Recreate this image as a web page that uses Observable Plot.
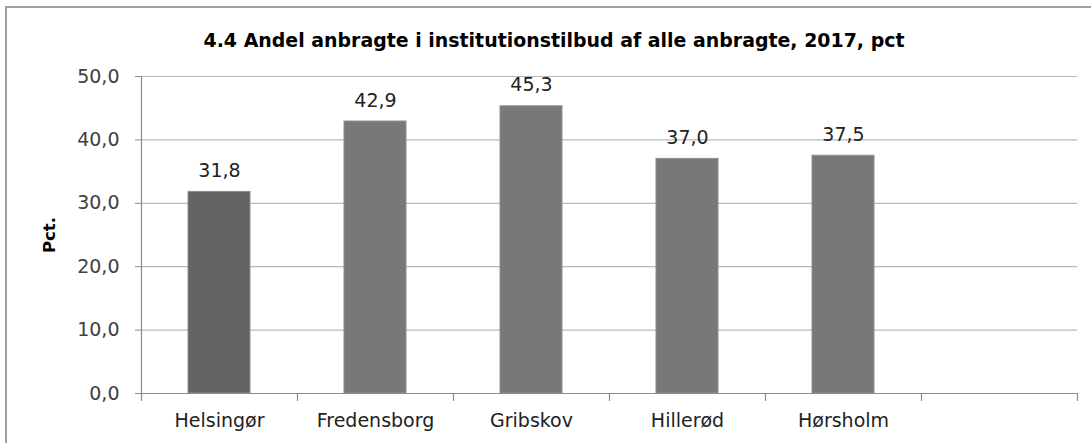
<!DOCTYPE html>
<html><head><meta charset="utf-8">
<script src="https://cdn.jsdelivr.net/npm/d3@7"></script>
<script src="https://cdn.jsdelivr.net/npm/@observablehq/plot@0.6"></script>
<style>
body{margin:0;background:#fff;}
#wrap{position:relative;width:1091px;height:443px;overflow:hidden;}
#border{position:absolute;left:5px;top:6px;width:1100px;height:460px;border-left:2px solid #a0a0a0;border-top:2px solid #a0a0a0;}
#chart{position:absolute;left:0;top:0;}
</style></head><body><div id="wrap"><div id="border"></div><div id="chart"></div></div>
<script>
const title = "4.4 Andel anbragte i institutionstilbud af alle anbragte, 2017, pct";
const yLabel = "Pct.";
const categories = ["Helsingør","Fredensborg","Gribskov","Hillerød","Hørsholm",""];
const values = [31.8, 42.9, 45.3, 37.0, 37.5];
const yTicks = [0, 10, 20, 30, 40, 50];

const data = values.map((v, i) => ({category: categories[i], value: v}));
const fmt = d => d.toFixed(1).replace(".", ",");

const W = 1091, H = 443, mL = 141, mR = 14, mT = 76, mB = 50;
const half = (W - mL - mR) / categories.length / 2;
const plotH = H - mT - mB;
const axisGray = "#8c8c8c";

const chart = Plot.plot({
  width: W, height: H,
  marginLeft: mL, marginRight: mR, marginTop: mT, marginBottom: mB,
  style: {fontFamily: "DejaVu Sans", background: "transparent"},
  x: {domain: categories, paddingInner: 0.6, paddingOuter: 0.3, label: null},
  y: {domain: [0, 50], label: null},
  marks: [
    Plot.ruleY(yTicks.filter(d => d > 0), {stroke: "#b8b8b8", strokeWidth: 1.2}),
    Plot.barY(data, {x: "category", y: "value",
      fill: d => d.category === "Helsingør" ? "#636363" : "#787878",
      stroke: "#8e8e8e", strokeWidth: 1}),
    Plot.ruleY([0], {stroke: axisGray, strokeWidth: 1.2}),
    Plot.ruleX([categories[0]], {x: d => d, dx: -half, stroke: axisGray, strokeWidth: 1.2, insetBottom: -8}),
    Plot.ruleX(categories.slice(1), {x: d => d, dx: -half, stroke: axisGray, strokeWidth: 1.2, insetTop: plotH, insetBottom: -8}),
    Plot.ruleX([categories[categories.length - 1]], {x: d => d, dx: half, stroke: axisGray, strokeWidth: 1.2, insetTop: plotH, insetBottom: -8}),
    Plot.axisY({ticks: yTicks, tickFormat: fmt, tickSize: 6, tickPadding: 16, stroke: axisGray, fill: "#404040", fontSize: 19, label: null}),
    Plot.axisX({tickSize: 0, tickPadding: 20, fill: "#222", fontSize: 19, label: null}),
    Plot.text(data, {x: "category", y: "value", text: d => fmt(d.value), dy: -21, fontSize: 19, fill: "#222", lineAnchor: "middle"}),
    Plot.text([yLabel], {frameAnchor: "left", dx: -92, rotate: -90, textAnchor: "middle", lineAnchor: "middle", fontSize: 16.5, fontWeight: "bold", fill: "#000"}),
    Plot.text([title], {frameAnchor: "top", lineAnchor: "middle", dx: 553.5 - (mL + (W - mL - mR) / 2), dy: -36, fontSize: 19.5, fontWeight: "bold", fill: "#000"})
  ]
});
d3.select(chart).selectAll("text").filter(function(){ return this.textContent === title; })
  .attr("textLength", 701).attr("lengthAdjust", "spacingAndGlyphs");
document.getElementById("chart").appendChild(chart);
</script></body></html>
